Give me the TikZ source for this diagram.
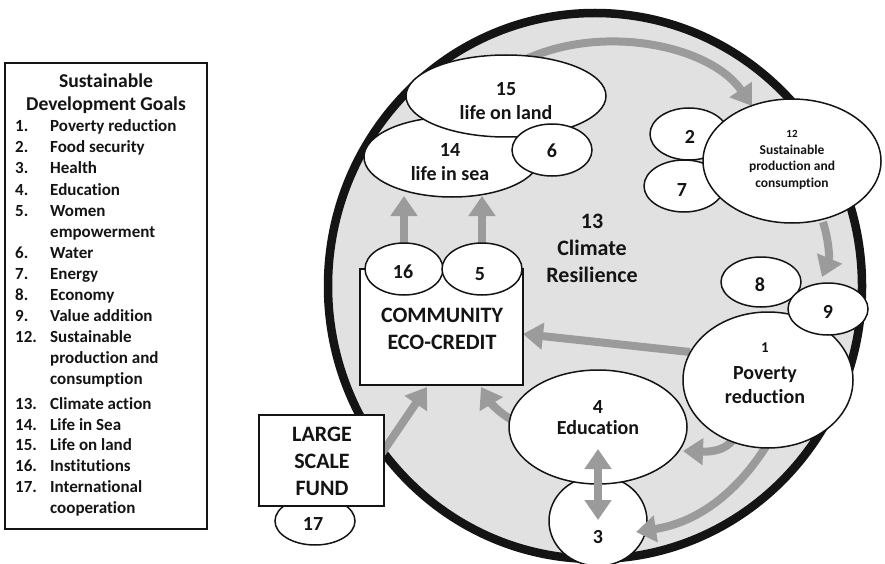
\documentclass[tikz,border=0pt]{standalone}
\usepackage{fontspec}
\setmainfont{Carlito}[Ligatures=NoCommon]
\usetikzlibrary{arrows.meta,shapes.geometric}
\definecolor{bggray}{HTML}{E1E1E1}
\definecolor{argray}{HTML}{9B9B9B}
\definecolor{ink}{HTML}{141414}
\tikzset{
  bub/.style={ellipse, draw=ink, fill=white, line width=1.5pt, inner sep=0pt},
  garrow/.style={draw=argray, line width=8pt, -{Triangle[width=26pt,length=20pt]}},
  gdarrow/.style={draw=argray, line width=8pt, {Triangle[width=26pt,length=20pt]}-{Triangle[width=26pt,length=20pt]}},
  boxst/.style={draw=ink, fill=white, line width=2pt},
  lbl/.style={font=\bfseries\fontsize{20}{24}\selectfont, align=center, text=ink, inner sep=0pt},
  big/.style={font=\bfseries\fontsize{22}{27}\selectfont, align=center, text=ink, inner sep=0pt},
  leg/.style={font=\bfseries\fontsize{17}{21}\selectfont, text=ink, inner sep=0pt, anchor=base west},
  legt/.style={font=\bfseries\fontsize{19.6}{23}\selectfont, text=ink, inner sep=0pt, anchor=base},
}
\begin{document}
\begin{tikzpicture}[x=1pt,y=-1pt]
\useasboundingbox (0,0) rectangle (885,564);
% big circle
\node[ellipse, draw=ink, fill=bggray, line width=8.5pt, minimum width=534pt, minimum height=546pt, inner sep=0pt] (world) at (595,286) {};
% coordinates for arrows
\coordinate (a15s) at (520,62);
\coordinate (a12t) at (752,106);
\coordinate (a12s) at (823,222);
\coordinate (a9t) at (822,277);
\coordinate (a1s) at (690,352);
\coordinate (aboxr) at (523,334);
\coordinate (a16s) at (404,250);
\coordinate (a16t) at (404,196);
\coordinate (a5s) at (482,250);
\coordinate (a5t) at (482,196);
\coordinate (a4s) at (514,421);
\coordinate (a4t) at (481,387);
\coordinate (a14s) at (733,440);
\coordinate (a14t) at (683,451);
\coordinate (afs) at (382,453);
\coordinate (aft) at (427,387);
\coordinate (a13s) at (770,440);
\coordinate (a13t) at (636,532);
\coordinate (a43s) at (598,449);
\coordinate (a43t) at (598,520);
% arrows under the bubbles
\draw[garrow] (a15s) .. controls (600,22) and (710,45) .. (a12t);
\draw[garrow] (a12s) .. controls (830,245) and (829,260) .. (a9t);
\draw[garrow] (a1s) -- (aboxr);
\draw[garrow] (a16s) -- (a16t);
\draw[garrow] (a5s) -- (a5t);
\draw[garrow] (a4s) .. controls (500,414) and (490,402) .. (a4t);
\draw[garrow] (a14s) .. controls (725,450) and (712,452) .. (a14t);
\draw[garrow] (afs) -- (aft);
% top-left bubbles
\node[bub, minimum width=176pt, minimum height=80pt] (e14) at (452,157) {};
\node[bub, minimum width=200pt, minimum height=82pt] (e15) at (506,96) {};
\node[bub, minimum width=80pt, minimum height=52pt] (e6) at (552,150) {};
% top-right bubbles
\node[bub, minimum width=78pt, minimum height=52pt] (e2) at (689,134) {};
\node[bub, minimum width=80pt, minimum height=52pt] (e7) at (684,186) {};
\node[bub, minimum width=178pt, minimum height=124pt] (e12) at (792,161) {};
% bottom bubbles
\node[bub, minimum width=98pt, minimum height=90pt] (e3) at (598,521) {};
\node[bub, minimum width=178pt, minimum height=114pt] (e4) at (598,427) {};
% community box
\draw[boxst] (360,269) rectangle (523,385);
\node[bub, minimum width=78pt, minimum height=52pt] (e16) at (404,269) {};
\node[bub, minimum width=80pt, minimum height=52pt] (e5) at (482,269) {};
% fund
\node[bub, minimum width=80pt, minimum height=48pt] (e17) at (315,521) {};
\draw[boxst] (259,415) rectangle (384,506);
% arrows on top
\draw[garrow] (a13s) .. controls (740,490) and (700,522) .. (a13t);
\draw[gdarrow] (a43s) -- (a43t);
% right bubbles
\node[bub, minimum width=170pt, minimum height=136pt] (e1) at (768,380) {};
\node[bub, minimum width=80pt, minimum height=50pt] (e8) at (761,282) {};
\node[bub, minimum width=80pt, minimum height=52pt] (e9) at (828,309) {};
% labels
\node[lbl] (t15) at (506,101) {15\\life on land};
\node[lbl] (t14) at (450,162) {14\\life in sea};
\node[lbl] (t6) at (552,151) {6};
\node[lbl] (t2) at (690,137) {2};
\node[lbl] (t7) at (682,190) {7};
\node[lbl, font=\bfseries\fontsize{11}{13}\selectfont] (t12n) at (792,134) {12};
\node[lbl, font=\bfseries\fontsize{13.5}{16.5}\selectfont] (t12) at (792,167) {Sustainable\\production and\\consumption};
\node[big] (t13) at (592,248) {13\\Climate\\Resilience};
\node[lbl] (t16) at (403,272) {16};
\node[lbl] (t5) at (480,274) {5};
\node[big] (tcom) at (442,329) {COMMUNITY\\ECO-CREDIT};
\node[lbl] (t8) at (760,285) {8};
\node[lbl] (t9) at (828,312) {9};
\node[lbl, font=\bfseries\fontsize{15}{18}\selectfont] (t1n) at (765,348) {1};
\node[lbl] (t1) at (765,385) {Poverty\\reduction};
\node[lbl, font=\bfseries\fontsize{20}{21}\selectfont] (t4) at (598,418) {4\\Education};
\node[lbl] (t3) at (598,537) {3};
\node[big] (tfund) at (322,461) {LARGE\\SCALE\\FUND};
\node[lbl] (t17) at (313,524) {17};
% legend
\draw[draw=ink, line width=2.4pt] (5,63) rectangle (207,529);
\node[legt] (lg1) at (106,88) {Sustainable};
\node[legt] (lg2) at (106,111) {Development Goals};
\node[leg] (n1) at (15,132) {1.};  \node[leg] (g1) at (50,132) {Poverty reduction};
\node[leg] (n2) at (15,153) {2.};  \node[leg] (g2) at (50,153) {Food security};
\node[leg] (n3) at (15,174) {3.};  \node[leg] (g3) at (50,174) {Health};
\node[leg] (n4) at (15,195) {4.};  \node[leg] (g4) at (50,195) {Education};
\node[leg] (n5) at (15,216) {5.};  \node[leg] (g5) at (50,216) {Women};
\node[leg] (g5b) at (50,237) {empowerment};
\node[leg] (n6) at (15,258) {6.};  \node[leg] (g6) at (50,258) {Water};
\node[leg] (n7) at (15,279) {7.};  \node[leg] (g7) at (50,279) {Energy};
\node[leg] (n8) at (15,300) {8.};  \node[leg] (g8) at (50,300) {Economy};
\node[leg] (n9) at (15,321) {9.};  \node[leg] (g9) at (50,321) {Value addition};
\node[leg] (n12) at (15,342) {12.}; \node[leg] (g12) at (50,342) {Sustainable};
\node[leg] (g12b) at (50,363) {production and};
\node[leg] (g12c) at (50,384) {consumption};
\node[leg] (n13) at (15,409) {13.}; \node[leg] (g13) at (50,409) {Climate action};
\node[leg] (n14) at (15,430) {14.}; \node[leg] (g14) at (50,430) {Life in Sea};
\node[leg] (n15) at (15,450) {15.}; \node[leg] (g15) at (50,450) {Life on land};
\node[leg] (n16) at (15,471) {16.}; \node[leg] (g16) at (50,471) {Institutions};
\node[leg] (n17) at (15,492) {17.}; \node[leg] (g17) at (50,492) {International};
\node[leg] (g17b) at (50,513) {cooperation};
\end{tikzpicture}
\end{document}
